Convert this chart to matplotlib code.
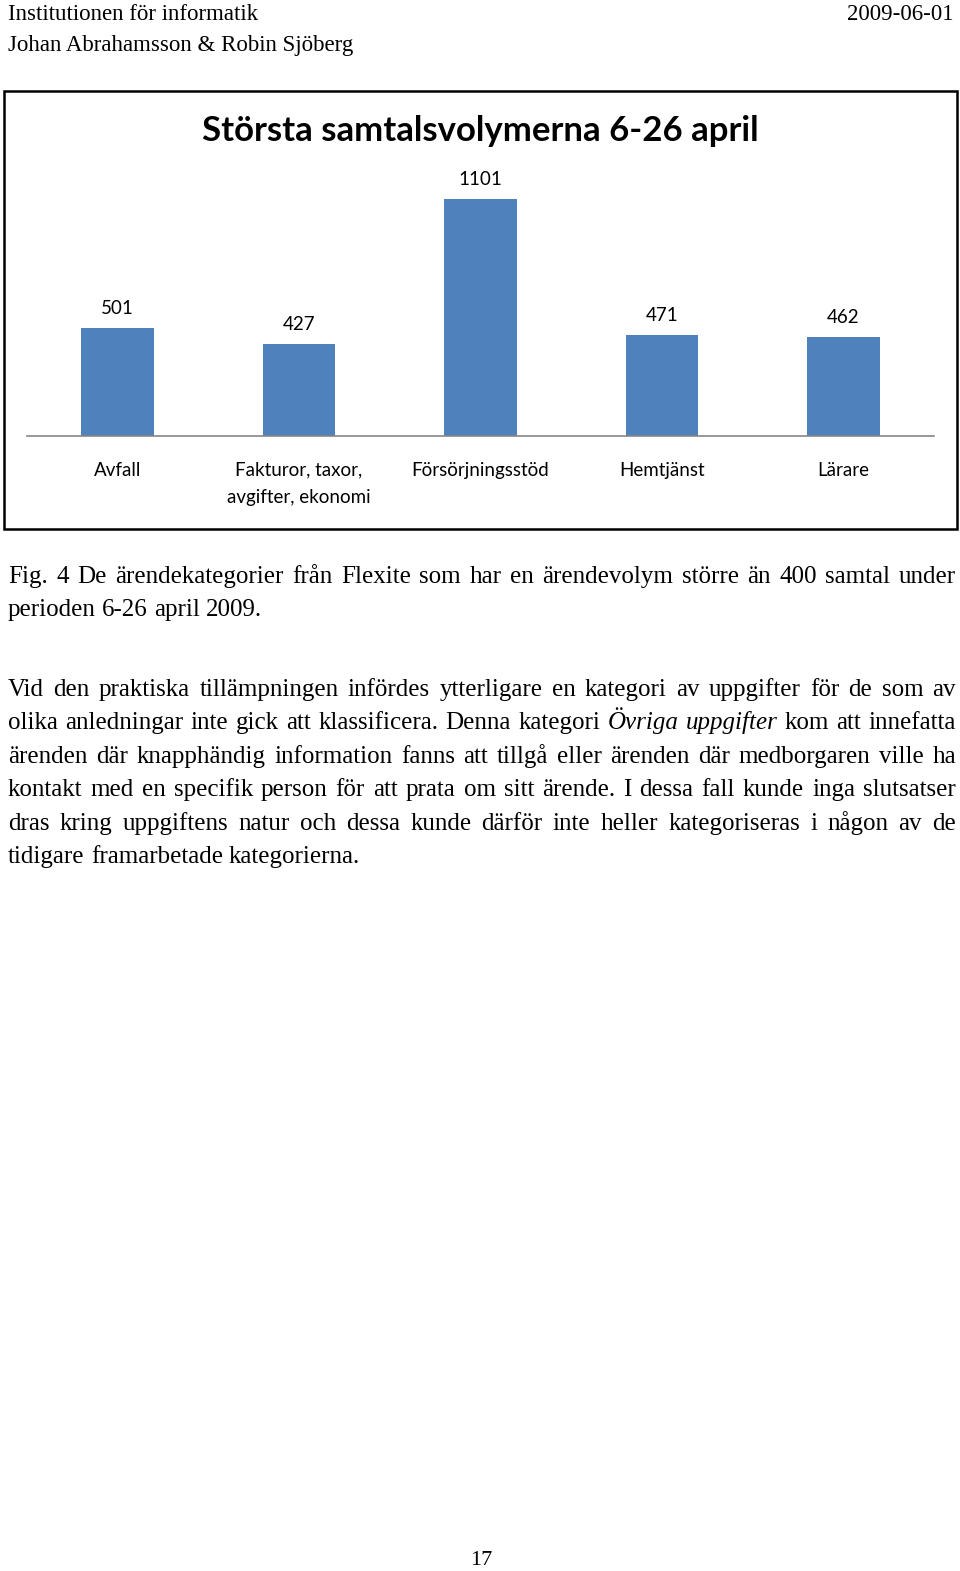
import matplotlib
matplotlib.use("Agg")
import matplotlib.pyplot as plt
from matplotlib.patches import Rectangle

# chart data
categories = ["Avfall", "Fakturor, taxor,\navgifter, ekonomi", "Försörjningsstöd", "Hemtjänst", "Lärare"]
values = [501, 427, 1101, 471, 462]
title = "Största samtalsvolymerna 6-26 april"

# page text
header_left = ["Institutionen för informatik", "Johan Abrahamsson & Robin Sjöberg"]
header_right = "2009-06-01"
caption = ["Fig. 4 De ärendekategorier från Flexite som har en ärendevolym större än 400 samtal under",
           "perioden 6-26 april 2009."]
paragraph = ["Vid den praktiska tillämpningen infördes ytterligare en kategori av uppgifter för de som av",
             "olika anledningar inte gick att klassificera. Denna kategori *Övriga *uppgifter kom att innefatta",
             "ärenden där knapphändig information fanns att tillgå eller ärenden där medborgaren ville ha",
             "kontakt med en specifik person för att prata om sitt ärende. I dessa fall kunde inga slutsatser",
             "dras kring uppgiftens natur och dessa kunde därför inte heller kategoriseras i någon av de",
             "tidigare framarbetade kategorierna."]
page_no = "17"

W, H = 960, 1571
fig = plt.figure(figsize=(W / 100, H / 100), dpi=100)
fig.patch.set_facecolor("white")

def fx(x):
    return x / W

def fy(y):
    return 1 - y / H

serif = "Liberation Serif"
sans = "Lato"

# header
fig.text(fx(8), fy(20), header_left[0], family=serif, fontsize=16.5, va="baseline")
fig.text(fx(8), fy(51), header_left[1], family=serif, fontsize=16.5, va="baseline")
fig.text(fx(954), fy(20), header_right, family=serif, fontsize=16.5, va="baseline", ha="right")

# chart frame
fig.patches.append(Rectangle((fx(4), fy(529)), fx(953), (529 - 91) / H, transform=fig.transFigure,
                             fill=False, edgecolor="black", linewidth=1.8))
fig.text(0.5, fy(131), title, family=sans, fontweight="bold", fontsize=25, ha="center", va="center")

scale = 0.2153  # px per unit
ax = fig.add_axes([fx(27), fy(436), fx(907), 1200 * scale / H])
x = range(len(values))
bars = ax.bar(x, values, width=0.4, color="#4F81BD")
ax.set_xlim(-0.5, 4.5)
ax.set_ylim(0, 1200)
for s in ["top", "left", "right"]:
    ax.spines[s].set_visible(False)
ax.spines["bottom"].set_color("#868686")
ax.spines["bottom"].set_linewidth(1.2)
ax.set_yticks([])
ax.set_xticks(list(x))
ax.set_xticklabels(categories, family=sans, fontsize=13.5, linespacing=1.75, va="top")
ax.tick_params(axis="x", length=0, pad=18.5)
ax.patch.set_alpha(0)
for xi, v in zip(x, values):
    ax.annotate(str(v), (xi, v), xytext=(0, 14), textcoords="offset points",
                ha="center", va="center", family=sans, fontsize=13.5)

# body text with justification
renderer = fig.canvas.get_renderer()
left, right = 8, 956
body_fs = 18

def draw_line(line, y, justify):
    words = line.split(" ")
    items = []
    for w in words:
        style = "normal"
        if w.startswith("*"):
            w = w[1:]
            style = "italic"
        t = fig.text(0, fy(y), w, family=serif, fontsize=body_fs, style=style, va="baseline")
        items.append((t, t.get_window_extent(renderer).width))
    if justify:
        total = sum(wd for _, wd in items)
        gap = (right - left - total) / (len(items) - 1)
    else:
        sp = fig.text(0, 0, "a a", family=serif, fontsize=body_fs)
        aa = fig.text(0, 0, "aa", family=serif, fontsize=body_fs)
        gap = sp.get_window_extent(renderer).width - aa.get_window_extent(renderer).width
        sp.remove()
        aa.remove()
    xpos = left
    for t, wd in items:
        t.set_x(fx(xpos))
        xpos += wd + gap

draw_line(caption[0], 583, True)
draw_line(caption[1], 616, False)
for i, line in enumerate(paragraph):
    draw_line(line, 696 + i * 33.4, i < len(paragraph) - 1)

fig.text(fx(481), fy(1565), page_no, family=serif, fontsize=16, ha="center", va="baseline")

fig.savefig("out.png", dpi=100, facecolor="white")
